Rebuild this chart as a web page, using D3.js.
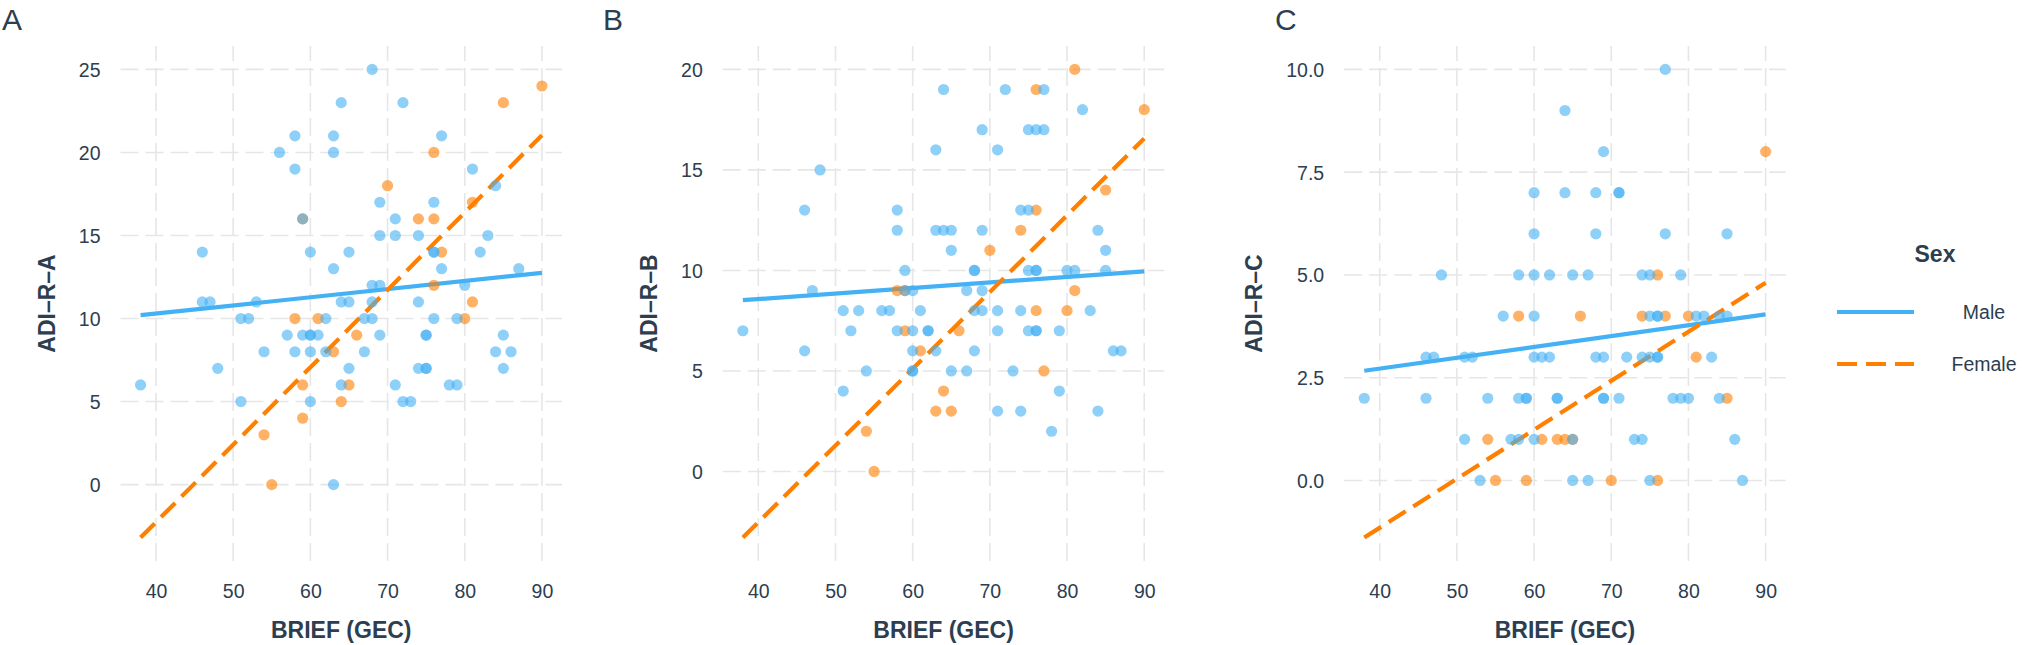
<!DOCTYPE html>
<html><head><meta charset="utf-8">
<script src="https://cdn.jsdelivr.net/npm/d3@7"></script>
<style>body{margin:0;background:#fff}svg{display:block}text{font-family:"Liberation Sans",Arial,Helvetica,sans-serif;fill:#2C3E50}</style>
</head><body><svg id="c" width="2031" height="645"></svg>
<script>
// ---------- data ----------
const xTicks = [40, 50, 60, 70, 80, 90];
const yTicksA = [0, 5, 10, 15, 20, 25];
const yTicksB = [0, 5, 10, 15, 20];
const yTicksC = [0, 2.5, 5, 7.5, 10];
const fitRangeX = [38, 90];
const sexLabels = ["Male", "Female"];

const maleA = [[68,25],[64,23],[72,23],[58,21],[63,21],[77,21],[56,20],[63,20],[58,19],[81,19],[84,18],[69,17],[76,17],[59,16],[71,16],[69,15],[71,15],[74,15],[83,15],[46,14],[60,14],[65,14],[76,14],[76,14],[82,14],[63,13],[77,13],[87,13],[68,12],[69,12],[80,12],[46,11],[47,11],[53,11],[64,11],[65,11],[68,11],[74,11],[51,10],[52,10],[62,10],[67,10],[68,10],[76,10],[79,10],[57,9],[59,9],[60,9],[60,9],[61,9],[69,9],[75,9],[75,9],[85,9],[54,8],[58,8],[60,8],[62,8],[67,8],[84,8],[86,8],[48,7],[65,7],[74,7],[75,7],[75,7],[85,7],[38,6],[64,6],[71,6],[78,6],[79,6],[51,5],[60,5],[72,5],[73,5],[63,0]];
const femaleA = [[90,24],[85,23],[76,20],[70,18],[81,17],[59,16],[74,16],[76,16],[77,14],[76,12],[81,11],[58,10],[61,10],[80,10],[66,9],[63,8],[59,6],[65,6],[64,5],[59,4],[54,3],[55,0]];
const fitMaleA = [10.2, 12.75];
const fitFemaleA = [-3.19, 21.04];

const maleB = [[64,19],[72,19],[77,19],[82,18],[69,17],[75,17],[76,17],[77,17],[63,16],[71,16],[48,15],[46,13],[58,13],[74,13],[75,13],[58,12],[63,12],[64,12],[65,12],[69,12],[84,12],[65,11],[85,11],[59,10],[68,10],[68,10],[75,10],[76,10],[76,10],[80,10],[81,10],[85,10],[47,9],[59,9],[60,9],[67,9],[69,9],[51,8],[53,8],[56,8],[57,8],[61,8],[68,8],[69,8],[71,8],[74,8],[83,8],[38,7],[52,7],[58,7],[60,7],[62,7],[62,7],[71,7],[75,7],[76,7],[76,7],[79,7],[46,6],[60,6],[63,6],[68,6],[86,6],[87,6],[54,5],[60,5],[60,5],[65,5],[67,5],[73,5],[51,4],[79,4],[71,3],[74,3],[84,3],[78,2]];
const femaleB = [[81,20],[76,19],[90,18],[85,14],[76,13],[74,12],[70,11],[58,9],[59,9],[81,9],[76,8],[80,8],[59,7],[66,7],[61,6],[77,5],[64,4],[63,3],[65,3],[54,2],[55,0]];
const fitMaleB = [8.52, 9.95];
const fitFemaleB = [-3.29, 16.56];

const maleC = [[77,10],[64,9],[69,8],[60,7],[64,7],[68,7],[71,7],[71,7],[60,6],[68,6],[77,6],[85,6],[48,5],[58,5],[60,5],[62,5],[65,5],[67,5],[74,5],[75,5],[79,5],[56,4],[60,4],[75,4],[76,4],[76,4],[81,4],[82,4],[84,4],[85,4],[46,3],[47,3],[51,3],[52,3],[60,3],[61,3],[62,3],[68,3],[69,3],[72,3],[74,3],[75,3],[76,3],[76,3],[83,3],[38,2],[46,2],[54,2],[58,2],[59,2],[59,2],[63,2],[63,2],[69,2],[69,2],[71,2],[78,2],[79,2],[80,2],[84,2],[51,1],[57,1],[58,1],[60,1],[65,1],[73,1],[74,1],[86,1],[53,0],[65,0],[67,0],[75,0],[87,0]];
const femaleC = [[90,8],[76,5],[58,4],[66,4],[74,4],[77,4],[80,4],[81,3],[85,2],[54,1],[61,1],[63,1],[64,1],[65,1],[55,0],[59,0],[70,0],[76,0]];
const fitMaleC = [2.67, 4.04];
const fitFemaleC = [-1.39, 4.81];

// ---------- layout ----------
const BLUE = "#45B1F5", ORANGE = "#FF7F00", GRID = "#E6E6E6";
const plotTop = 46, plotBottom = 561, pw = 441.5;
const panels = [
  {tag:"A", tagX:2, left:120.5, male:maleA, female:femaleA, fm:fitMaleA, ff:fitFemaleA, yt:yTicksA, fmt:d3.format("d"), title:"ADI–R–A"},
  {tag:"B", tagX:603, left:722.8, male:maleB, female:femaleB, fm:fitMaleB, ff:fitFemaleB, yt:yTicksB, fmt:d3.format("d"), title:"ADI–R–B"},
  {tag:"C", tagX:1275, left:1344.2, male:maleC, female:femaleC, fm:fitMaleC, ff:fitFemaleC, yt:yTicksC, fmt:d3.format(".1f"), title:"ADI–R–C"}
];
const svg = d3.select("#c");

function expand(ext){const r=ext[1]-ext[0];return [ext[0]-0.05*r, ext[1]+0.05*r];}

panels.forEach(p => {
  const allY = p.male.map(d=>d[1]).concat(p.female.map(d=>d[1]), p.fm, p.ff);
  const allX = p.male.map(d=>d[0]).concat(p.female.map(d=>d[0]), fitRangeX);
  const x = d3.scaleLinear().domain(expand(d3.extent(allX))).range([p.left, p.left+pw]);
  const y = d3.scaleLinear().domain(expand(d3.extent(allY))).range([plotBottom, plotTop]);
  const g = svg.append("g");

  // grid
  g.selectAll(".gx").data(xTicks).join("line")
    .attr("x1", d=>x(d)).attr("x2", d=>x(d)).attr("y1", plotBottom).attr("y2", plotTop)
    .attr("stroke", GRID).attr("stroke-width", 1.6).attr("stroke-dasharray", "18,7");
  g.selectAll(".gy").data(p.yt).join("line")
    .attr("y1", d=>y(d)).attr("y2", d=>y(d)).attr("x1", p.left).attr("x2", p.left+pw)
    .attr("stroke", GRID).attr("stroke-width", 1.6).attr("stroke-dasharray", "18,7");

  // axes labels via d3 axes (no domain / tick lines)
  const ax = g.append("g").attr("transform", `translate(0,${plotBottom})`)
    .call(d3.axisBottom(x).tickValues(xTicks).tickSize(0).tickPadding(0));
  ax.select(".domain").remove();
  ax.selectAll("text").attr("y", 37).attr("dy", 0).attr("font-size", 19.5)
    .style("font-family", '"Liberation Sans",Arial,sans-serif').attr("fill", "#2C3E50");
  const ay = g.append("g").attr("transform", `translate(${p.left},0)`)
    .call(d3.axisLeft(y).tickValues(p.yt).tickFormat(p.fmt).tickSize(0).tickPadding(20));
  ay.select(".domain").remove();
  ay.selectAll("text").attr("font-size", 19.5).attr("dy", "0.36em")
    .style("font-family", '"Liberation Sans",Arial,sans-serif').attr("fill", "#2C3E50");
  let maxW = 0;
  ay.selectAll("text").each(function(){maxW = Math.max(maxW, this.getBBox().width);});

  // titles
  g.append("text").attr("x", p.left+pw/2).attr("y", 638).attr("text-anchor","middle")
    .attr("font-size", 23).attr("font-weight","bold").text("BRIEF (GEC)");
  const ty = (plotTop+plotBottom)/2, tx = p.left - 20 - maxW - 24;
  g.append("text").attr("transform", `translate(${tx},${ty}) rotate(-90)`).attr("text-anchor","middle")
    .attr("font-size", 23).attr("font-weight","bold").text(p.title);
  g.append("text").attr("x", p.tagX).attr("y", 30).attr("font-size", 30).text(p.tag);

  // fit lines
  const line = d3.line().x(d=>x(d[0])).y(d=>y(d[1]));
  g.append("path").attr("d", line(fitRangeX.map((v,i)=>[v,p.fm[i]])))
    .attr("stroke", BLUE).attr("stroke-width", 4.2).attr("fill","none");
  g.append("path").attr("d", line(fitRangeX.map((v,i)=>[v,p.ff[i]])))
    .attr("stroke", ORANGE).attr("stroke-width", 4.2).attr("fill","none").attr("stroke-dasharray","20,9");

  // points (female drawn first, male on top)
  const pts = p.female.map(d=>({x:d[0],y:d[1],s:"F"})).concat(p.male.map(d=>({x:d[0],y:d[1],s:"M"})));
  g.selectAll("circle").data(pts).join("circle")
    .attr("cx", d=>x(d.x)).attr("cy", d=>y(d.y)).attr("r", 5.6)
    .attr("fill", d=>d.s==="M"?BLUE:ORANGE).attr("fill-opacity", 0.6);
});

// legend
const lg = svg.append("g");
lg.append("text").attr("x", 1935).attr("y", 262).attr("text-anchor","middle")
  .attr("font-size", 23).attr("font-weight","bold").text("Sex");
const legY = [312, 364];
sexLabels.forEach((s,i) => {
  lg.append("line").attr("x1", 1837).attr("x2", 1914).attr("y1", legY[i]).attr("y2", legY[i])
    .attr("stroke", i===0?BLUE:ORANGE).attr("stroke-width", 4.2)
    .attr("stroke-dasharray", i===0?null:"20,9");
  lg.append("text").attr("x", 1984).attr("y", legY[i]).attr("dy","0.36em").attr("text-anchor","middle")
    .attr("font-size", 19.5).text(s);
});
</script></body></html>
